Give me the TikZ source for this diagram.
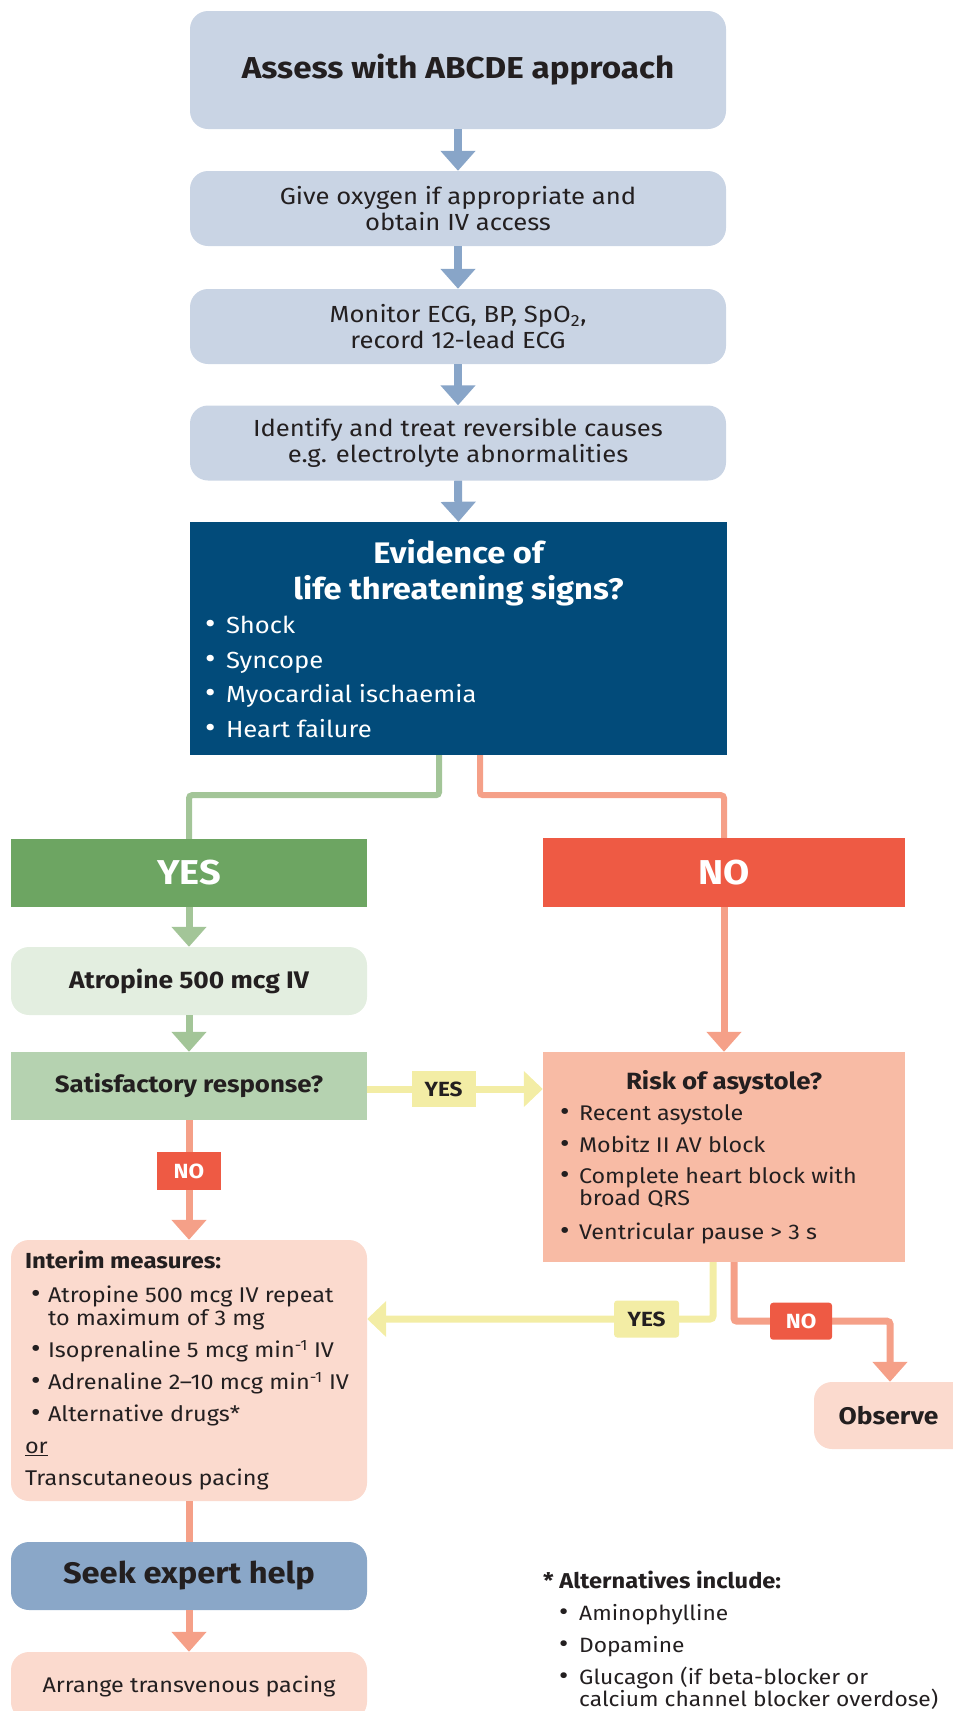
\documentclass[tikz,border=0pt]{standalone}
\usepackage{fontspec}
\setmainfont{Fira Sans}[FakeStretch=1.1]
\usetikzlibrary{arrows.meta}
\definecolor{boxblue}{HTML}{C9D4E4}
\definecolor{arrblue}{HTML}{88A5C8}
\definecolor{navy}{HTML}{024B7A}
\definecolor{gline}{HTML}{A3C598}
\definecolor{gyes}{HTML}{6DA562}
\definecolor{glight}{HTML}{E3EEE0}
\definecolor{gmid}{HTML}{B5D2B0}
\definecolor{oline}{HTML}{F5A088}
\definecolor{ored}{HTML}{EE5A44}
\definecolor{orisk}{HTML}{F8BBA5}
\definecolor{opale}{HTML}{FBDACE}
\definecolor{yel}{HTML}{F3EDA5}
\definecolor{seekblue}{HTML}{8AA7C8}
\definecolor{ink}{HTML}{231F20}
\newcommand\bul[1][19pt]{\makebox[#1][l]{\scalebox{1.25}{\textbullet}}}
\begin{document}
\begin{tikzpicture}[x=1pt,y=-1pt,
  base/.style={inner sep=0pt, text=ink, align=center},
  softblue/.style={base, fill=boxblue, rounded corners=18pt, minimum width=536pt, minimum height=75pt, font=\fontsize{23.3}{26}\selectfont},
  navybox/.style={base, fill=navy, text=white, minimum width=537pt, minimum height=233pt},
  leftcol/.style={base, minimum width=356pt, minimum height=68pt},
  bigword/.style={base, text=white, font=\fontsize{34.5}{38}\selectfont\bfseries},
  blueArrow/.style={draw=arrblue, line width=8pt, -{Triangle[width=34pt,length=20pt]}},
  greenArrow/.style={draw=gline, line width=7pt, -{Triangle[width=34pt,length=20pt]}},
  orangeArrow/.style={draw=oline, line width=7pt, -{Triangle[width=34pt,length=20pt]}},
  yellowArrow/.style={draw=yel, line width=7pt, -{Triangle[width=35pt,length=19pt]}},
  branch/.style={line width=6pt, rounded corners=3pt},
  lab/.style={inner sep=0pt, minimum width=64pt, minimum height=36pt, font=\fontsize{20.5}{22}\selectfont\bfseries},
]
\useasboundingbox (0,0) rectangle (953,1711);

% top column
\node[softblue, minimum height=118pt, font=\fontsize{30.2}{34}\selectfont\bfseries] (b1) at (458,70) {Assess with ABCDE approach};
\node[softblue] (b2) at (458,208.5) {Give oxygen if appropriate and\\obtain IV access};
\node[softblue] (b3) at (458,326.5) {Monitor ECG, BP, SpO\textsubscript{2},\\record 12-lead ECG};
\node[softblue] (b4) at (458,443) {Identify and treat reversible causes\\e.g. electrolyte abnormalities};
\node[navybox] (b5) at (458.5,638.5) {\begin{minipage}{507pt}\centering\fontsize{29.7}{36}\selectfont\bfseries Evidence of\\life threatening signs?\par\raggedright\fontsize{23.3}{34.5}\selectfont\mdseries
\bul[21pt]Shock\\\bul[21pt]Syncope\\\bul[21pt]Myocardial ischaemia\\\bul[21pt]Heart failure\end{minipage}};

% YES / NO
\node[bigword, fill=gyes, minimum width=356pt, minimum height=68pt] (yes) at (189,873) {YES};
\node[bigword, fill=ored, minimum width=362pt, minimum height=69pt] (no) at (724,872.5) {NO};

% left column
\node[leftcol, fill=glight, rounded corners=18pt, font=\fontsize{24}{26}\selectfont\bfseries] (atro) at (189,981) {Atropine 500 mcg IV};
\node[leftcol, fill=gmid, font=\fontsize{23.5}{26}\selectfont\bfseries] (sat) at (189,1086) {Satisfactory response?};
\node[leftcol, fill=opale, rounded corners=18pt, minimum height=261pt] (int) at (189,1370.5) {\begin{minipage}{328pt}\raggedright\fontsize{21.3}{32}\selectfont
{\fontsize{21.8}{32}\selectfont\bfseries Interim measures:}\\[2pt]
\hspace*{6pt}\bul[17pt]Atropine 500 mcg IV repeat\\[-9pt]
\hspace*{23pt}to maximum of 3 mg\\
\hspace*{6pt}\bul[17pt]Isoprenaline 5 mcg min\textsuperscript{-1} IV\\
\hspace*{6pt}\bul[17pt]Adrenaline 2--10 mcg min\textsuperscript{-1} IV\\
\hspace*{6pt}\bul[17pt]Alternative drugs*\\
\underline{or}\\
Transcutaneous pacing\end{minipage}};
\node[leftcol, fill=seekblue, rounded corners=18pt, font=\fontsize{29.7}{32}\selectfont\bfseries] (seek) at (189,1576) {Seek expert help};
\node[leftcol, fill=opale, rounded corners=18pt, font=\fontsize{21.2}{24}\selectfont] (arr) at (189,1686) {Arrange transvenous pacing};

% right column
\node[base, fill=orisk, minimum width=362pt, minimum height=210pt] (risk) at (724,1157) {\begin{minipage}{328pt}\centering\fontsize{23.5}{26}\selectfont\bfseries Risk of asystole?\par\raggedright\mdseries\fontsize{21.2}{31.5}\selectfont
\bul Recent asystole\\
\bul Mobitz II AV block\\
\bul Complete heart block with\\[-9.5pt]
\hspace*{19pt}broad QRS\\[2.5pt]
\bul Ventricular pause > 3 s\end{minipage}};
\node[base, fill=opale, rounded corners=18pt, minimum width=161pt, minimum height=67pt, font=\fontsize{24}{26}\selectfont\bfseries] (obs) at (894.5,1415.5) {\hspace*{-12pt}Observe};

% footnote
\node[base, anchor=base west] (alt) at (543,1588) {\begin{minipage}[t]{410pt}\raggedright\fontsize{20.7}{32}\selectfont
{\fontsize{21.5}{32}\selectfont\bfseries * Alternatives include:}\\
\hspace*{16pt}\bul[20pt]Aminophylline\\
\hspace*{16pt}\bul[20pt]Dopamine\\
\hspace*{16pt}\bul[20pt]Glucagon (if beta-blocker or\\[-10pt]
\hspace*{36pt}calcium channel blocker overdose)\end{minipage}};

% connectors
\draw[blueArrow] (b1.south) -- (b2.north);
\draw[blueArrow] (b2.south) -- (b3.north);
\draw[blueArrow] (b3.south) -- (b4.north);
\draw[blueArrow] (b4.south) -- (b5.north);
\draw[branch, draw=gline] ([xshift=-19.5pt]b5.south) -- ++(0,40) -| (yes.north);
\draw[branch, draw=oline] ([xshift=21.5pt]b5.south) -- ++(0,40) -| (no.north);
\draw[greenArrow] (yes.south) -- (atro.north);
\draw[greenArrow] (atro.south) -- (sat.north);
\draw[orangeArrow] (no.south) -- (risk.north);
\draw[yellowArrow] ([yshift=-3pt]sat.east) -- ([yshift=-3pt]sat.east -| risk.west)
  node[lab, fill=yel, text=ink, pos=0.435] (l1) {YES};
\draw[orangeArrow] (sat.south) -- (int.north)
  node[lab, fill=ored, text=white, minimum height=38pt, pos=0.425] (l2) {NO};
\draw[yellowArrow, rounded corners=3pt] ([xshift=-11pt]risk.south) |- ([yshift=51.5pt]int.east)
  node[lab, fill=yel, text=ink, minimum width=65pt, minimum height=37pt, pos=0.596] (l3) {YES};
\draw[orangeArrow, rounded corners=3pt] ([xshift=10pt]risk.south) -- ++(0,59) -| ([xshift=-4.5pt]obs.north)
  node[lab, fill=ored, text=white, minimum width=62pt, minimum height=37pt, pos=0.215] (l4) {NO};
\draw[draw=oline, line width=7pt] (int.south) -- (seek.north);
\draw[orangeArrow] (seek.south) -- (arr.north);
\end{tikzpicture}
\end{document}
